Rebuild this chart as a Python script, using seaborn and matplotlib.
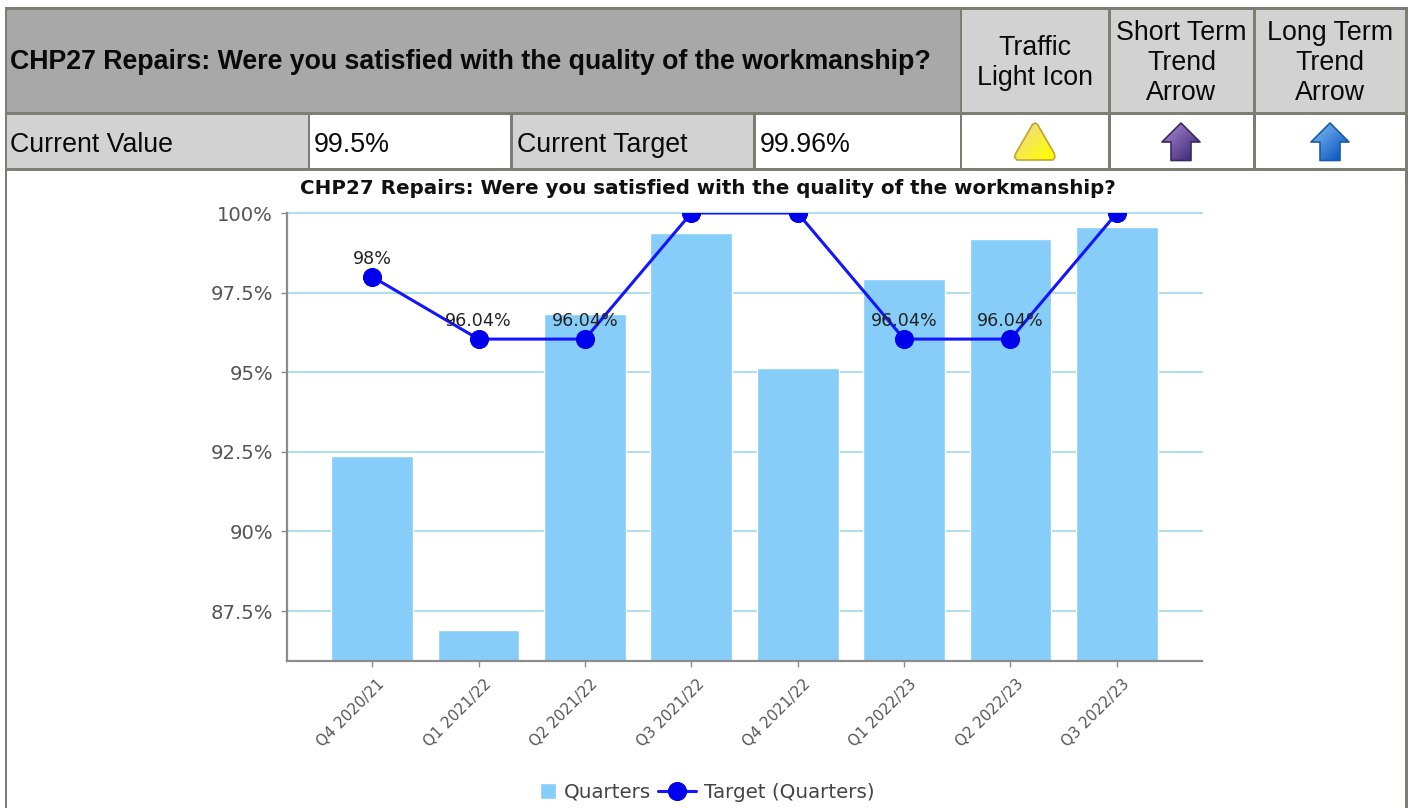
import matplotlib
matplotlib.use("Agg")
import matplotlib.pyplot as plt
from matplotlib.legend_handler import HandlerPatch
from matplotlib.patches import Polygon, Rectangle
from matplotlib.transforms import ScaledTranslation
import numpy as np
import pandas as pd
import seaborn as sns

quarters = ["Q4 2020/21", "Q1 2021/22", "Q2 2021/22", "Q3 2021/22",
            "Q4 2021/22", "Q1 2022/23", "Q2 2022/23", "Q3 2022/23"]
actual = [92.36, 86.9, 96.83, 99.36, 95.13, 97.93, 99.18, 99.56]
target = [98, 96.04, 96.04, 100, 100, 96.04, 96.04, 100]
target_labels = ["98%", "96.04%", "96.04%", None, None, "96.04%", "96.04%", None]
y_ticks = [87.5, 90, 92.5, 95, 97.5, 100]
y_tick_labels = ["87.5%", "90%", "92.5%", "95%", "97.5%", "100%"]
title = "CHP27 Repairs: Were you satisfied with the quality of the workmanship?"

W, H = 1414, 808
sns.set_theme(style="white")
plt.rcParams["font.family"] = ["DejaVu Sans"]
fig = plt.figure(figsize=(W / 100, H / 100), dpi=100, facecolor="white")

# ---- page table drawn in pixel coordinates
bg = fig.add_axes([0, 0, 1, 1], zorder=0)
bg.set_xlim(0, W); bg.set_ylim(H, 0); bg.axis("off")
BORDER = "#7d7d72"
ARIAL = "Liberation Sans"

def rect(x0, y0, x1, y1, c):
    bg.add_patch(Rectangle((x0, y0), x1 - x0, y1 - y0, fc=c, ec="none"))

rect(5, 7, 1408, 808, BORDER)
cells = [
    (7, 9.5, 959.5, 112, "#a8a8a8"), (962, 9.5, 1108, 112, "#d2d2d2"),
    (1111, 9.5, 1253, 112, "#d2d2d2"), (1256, 9.5, 1405, 112, "#d2d2d2"),
    (7, 115, 307.5, 168, "#d2d2d2"), (310, 115, 510, 168, "white"),
    (513, 115, 753, 168, "#d2d2d2"), (756, 115, 959.5, 168, "white"),
    (962, 115, 1108, 168, "white"), (1111, 115, 1253, 168, "white"),
    (1256, 115, 1405, 168, "white"), (7, 171, 1405, 808, "white"),
]
for c in cells:
    rect(*c)

def t(x, y, s, ha="left", weight="normal", size=19.3):
    bg.text(x, y, s, ha=ha, va="center", family=ARIAL, fontweight=weight,
            fontsize=size, color="#0a0a0a", linespacing=1.18)

t(10, 62, title, weight="bold", size=19.3)
t(1035, 63, "Traffic\nLight Icon", ha="center")
t(1181.5, 63, "Short Term\nTrend\nArrow", ha="center")
t(1330, 63, "Long Term\nTrend\nArrow", ha="center")
t(10, 145, "Current Value")
t(314, 145, "99.5%")
t(517, 145, "Current Target")
t(760, 145, "99.96%")

def icon(points, c0, c1, edge):
    pts = np.array(points, float)
    x0, y0 = pts.min(0); x1, y1 = pts.max(0)
    gx, gy = np.meshgrid(np.linspace(0, 1, 48), np.linspace(0, 1, 48))
    cm = matplotlib.colors.LinearSegmentedColormap.from_list("g", [c0, c1])
    im = bg.imshow((gx + gy) / 2, extent=(x0, x1, y1, y0), cmap=cm, aspect="auto",
                   zorder=3, vmin=0.1, vmax=0.9)
    p = Polygon(pts, closed=True, fc="none", ec=edge, lw=1.2, zorder=4, joinstyle="round")
    bg.add_patch(p)
    im.set_clip_path(p)

icon([(1032.5, 124.5), (1035, 123), (1037.5, 124.5), (1054, 153), (1055, 157), (1053, 160),
      (1017, 160), (1014.5, 157), (1016, 153)],
     "#eed98a", "#ffff00", "#c9a030")

def arrow(cx):
    return [(cx, 123), (cx + 19, 142), (cx + 10, 142), (cx + 10, 160.5),
            (cx - 10, 160.5), (cx - 10, 142), (cx - 19, 142)]

icon(arrow(1181), "#a583d0", "#3f2a78", "#3a2a60")
icon(arrow(1330), "#7ab8f0", "#0a56c0", "#1c5aa8")
bg.set_xlim(0, W); bg.set_ylim(H, 0)

# ---- chart
ax = fig.add_axes([287 / W, 1 - 661 / H, (1202 - 287) / W, (661 - 213) / H], zorder=2)
ax.patch.set_alpha(0)
df = pd.DataFrame({"Quarter": quarters, "Quarters": actual, "Target": target})
sns.barplot(data=df, x="Quarter", y="Quarters", order=quarters, color="#87cdfa",
            saturation=1, width=0.77, ax=ax, zorder=2, label="Quarters")
sns.lineplot(data=df, x="Quarter", y="Target", color="#1414ff", lw=2.2, marker="o",
             markersize=13, markerfacecolor="#0000ee", markeredgecolor="#0000ee",
             ax=ax, zorder=3, sort=False, label="Target (Quarters)")
ax.set_xlim(-0.8, 7.8)
ax.set_ylim(85.93, 100)
ax.set_yticks(y_ticks, y_tick_labels)
ax.set_xlabel(""); ax.set_ylabel("")
ax.yaxis.grid(True, color="#b4dcea", lw=1.6, zorder=1)
ax.xaxis.grid(False)
ax.set_axisbelow(True)
for g in ax.get_ygridlines():
    g.set_clip_on(False)
for s in ("top", "right"):
    ax.spines[s].set_visible(False)
for s in ("left", "bottom"):
    ax.spines[s].set_color("#8c8c8c")
    ax.spines[s].set_linewidth(1.6)
ax.tick_params(axis="y", left=True, length=4, width=1, color="#8c8c8c",
               labelsize=14.1, labelcolor="#555555", pad=6)
ax.tick_params(axis="x", bottom=True, length=4, width=1, color="#8c8c8c",
               labelsize=10.8, labelcolor="#555555", pad=7)
plt.setp(ax.get_xticklabels(), rotation=45, ha="right", rotation_mode="anchor")
for lab in ax.get_xticklabels():
    lab.set_transform(lab.get_transform() + ScaledTranslation(5 / 100, 0, fig.dpi_scale_trans))
for i, (v, lab) in enumerate(zip(target, target_labels)):
    if lab:
        ax.annotate(lab, (i, v), xytext=(0, 6.5), textcoords="offset points", ha="center",
                    va="bottom", fontsize=12.6, color="#222222", zorder=5)

handles, labels = ax.get_legend_handles_labels()
if ax.get_legend():
    ax.get_legend().remove()
by_label = dict(zip(labels, handles))
order = ["Quarters", "Target (Quarters)"]

def square(legend, orig_handle, xdescent, ydescent, width, height, fontsize):
    side = 11.5
    return Rectangle((width - side - xdescent, (height - side) / 2 - ydescent), side, side)

bar_handle = by_label["Quarters"]
bar_key = bar_handle[0] if hasattr(bar_handle, "patches") else bar_handle
fig.legend([bar_key, by_label[order[1]]], order, loc="center",
           bbox_to_anchor=(696.5 / W, 1 - 792.5 / H), ncol=2,
           frameon=False, fontsize=14.3, labelcolor="#444444", columnspacing=0.35,
           handlelength=1.9, handletextpad=0.4, borderpad=0,
           handler_map={bar_key: HandlerPatch(patch_func=square)})
fig.text(708 / W, 1 - 189 / H, title, ha="center", va="center", fontweight="bold",
         fontsize=14.3, color="#111111", zorder=5)

fig.savefig("out.png", dpi=100)
